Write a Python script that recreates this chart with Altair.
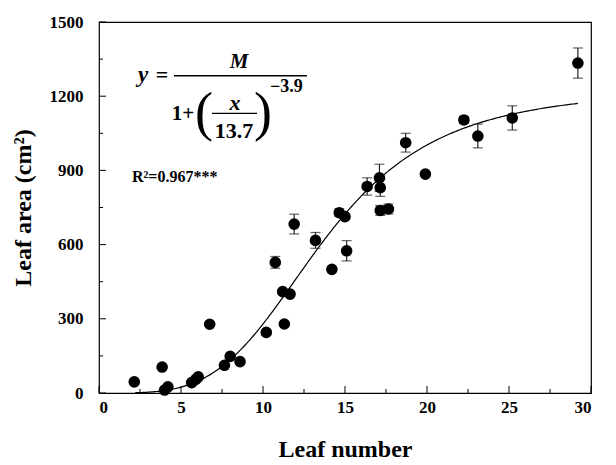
import altair as alt
import pandas as pd

# ---- data ----
leaf_number = [2.15, 3.85, 4.0, 4.2, 5.65, 5.9, 6.05, 6.75, 7.65, 8.0, 8.6,
               10.2, 10.75, 11.2, 11.3, 11.65, 11.9, 13.2, 14.2, 14.65, 15.0,
               15.1, 16.35, 17.1, 17.15, 17.15, 17.65, 18.7, 19.9, 22.25, 23.1,
               25.2, 29.2]
leaf_area = [45, 105, 12, 25, 42, 55, 65, 278, 112, 148, 127,
             245, 528, 410, 279, 400, 683, 617, 500, 729, 713,
             575, 835, 870, 830, 738, 744, 1012, 885, 1104, 1039,
             1112, 1334]
area_err = [4, 4, 4, 4, 4, 4, 4, 8, 5, 5, 5,
            8, 24, 10, 7, 10, 40, 32, 10, 15, 10,
            41, 35, 55, 35, 20, 20, 38, 8, 14, 48,
            49, 61]

x_ticks = [0, 5, 10, 15, 20, 25, 30]
x_minor = [2.5, 7.5, 12.5, 17.5, 22.5, 27.5]
y_ticks = [0, 300, 600, 900, 1200, 1500]
y_minor = [150, 450, 750, 1050, 1350]

# fitted model parameters shown in the chart
M_param = 1232
x0_param = 13.7
b_param = -3.9
curve_start, curve_end = 2.2, 29.2

FONT = "Liberation Serif"

df = pd.DataFrame({"x": leaf_number, "y": leaf_area, "e": area_err})
df["lo"] = df["y"] - df["e"]
df["hi"] = df["y"] + df["e"]

xs = alt.Scale(domain=[0, 30], nice=False, zero=False)
ys = alt.Scale(domain=[0, 1500], nice=False, zero=False)

axis_style = dict(ticks=False, domain=False, grid=False, format="d",
                  labelFont=FONT, labelFontSize=17, labelFontWeight="bold", labelColor="black",
                  titleFont=FONT, titleFontSize=24, titleFontWeight="bold", titleColor="black")

X = alt.X("x:Q", scale=xs,
          axis=alt.Axis(values=x_ticks, title="Leaf number", labelPadding=6, titlePadding=22,
                        **axis_style))
Y = alt.Y("y:Q", scale=ys,
          axis=alt.Axis(values=y_ticks, title="Leaf area (cm²)", labelPadding=16, titlePadding=14,
                        **axis_style))

base = alt.Chart(df)

bars = base.mark_rule(color="#222", strokeWidth=1.2).encode(
    x=X, y=alt.Y("lo:Q", scale=ys), y2="hi:Q")
cap_lo = base.mark_tick(orient="horizontal", size=10, thickness=1.2, color="#222").encode(
    x=X, y=alt.Y("lo:Q", scale=ys))
cap_hi = base.mark_tick(orient="horizontal", size=10, thickness=1.2, color="#222").encode(
    x=X, y=alt.Y("hi:Q", scale=ys))
points = base.mark_circle(size=135, opacity=1, color="black").encode(x=X, y=Y)

curve = alt.Chart(alt.sequence(curve_start, curve_end + 0.01, 0.1, as_="x")).transform_calculate(
    y=f"{M_param} / (1 + pow(datum.x / {x0_param}, {b_param}))"
).mark_line(color="black", strokeWidth=1.2).encode(x=X, y=Y)

# inward ticks
xt = pd.DataFrame({"v": x_ticks})
xm = pd.DataFrame({"v": x_minor})
yt = pd.DataFrame({"v": y_ticks})
ym = pd.DataFrame({"v": y_minor})
tick_x = alt.Chart(xt).mark_rule(color="black").encode(
    x=alt.X("v:Q", scale=xs), y=alt.value(371), y2=alt.value(364))
tick_xm = alt.Chart(xm).mark_rule(color="black").encode(
    x=alt.X("v:Q", scale=xs), y=alt.value(371), y2=alt.value(367))
tick_y = alt.Chart(yt).mark_rule(color="black").encode(
    y=alt.Y("v:Q", scale=ys), x=alt.value(0), x2=alt.value(7))
tick_ym = alt.Chart(ym).mark_rule(color="black").encode(
    y=alt.Y("v:Q", scale=ys), x=alt.value(0), x2=alt.value(4))

# formula annotation (positions in plot pixels)
def txt(s, x, y, size, italic=False, align="center", weight="bold", font=FONT):
    return alt.Chart(pd.DataFrame({"t": [s]})).mark_text(
        font=font, fontSize=size, fontWeight=weight,
        fontStyle="italic" if italic else "normal",
        align=align, baseline="alphabetic", color="black"
    ).encode(text="t:N", x=alt.value(x), y=alt.value(y))

def hline(x1, x2, y, w=1.5):
    return alt.Chart(pd.DataFrame({"a": [0]})).mark_rule(color="black", strokeWidth=w).encode(
        x=alt.value(x1), x2=alt.value(x2), y=alt.value(y))

formula = [
    txt("y", 44, 60, 23, italic=True),
    txt("=", 63, 60, 22),
    hline(75, 208, 53.7),
    txt("M", 140, 46, 21, italic=True),
    txt("1+", 84, 98, 21),
    txt("(", 105, 108, 54, weight="normal"),
    txt("x", 136, 88, 22, italic=True),
    hline(113, 158, 91.3, 1.3),
    txt("13.7", 135, 116, 22),
    txt(")", 164, 108, 54, weight="normal"),
    txt("\u22123.9", 171, 70, 18, align="left"),
    txt("R\u00b2=0.967***", 33, 160, 16, align="left"),
]

chart = alt.layer(
    curve, bars, cap_lo, cap_hi, points,
    tick_x, tick_xm, tick_y, tick_ym, *formula
).properties(
    width=492, height=371,
    padding={"left": 91, "top": 14, "right": 14, "bottom": 70},
    autosize=alt.AutoSizeParams(type="none"),
).configure_view(stroke="black", strokeWidth=1.2)

chart.save("out.html", embed_options={"renderer": "svg", "actions": False})
